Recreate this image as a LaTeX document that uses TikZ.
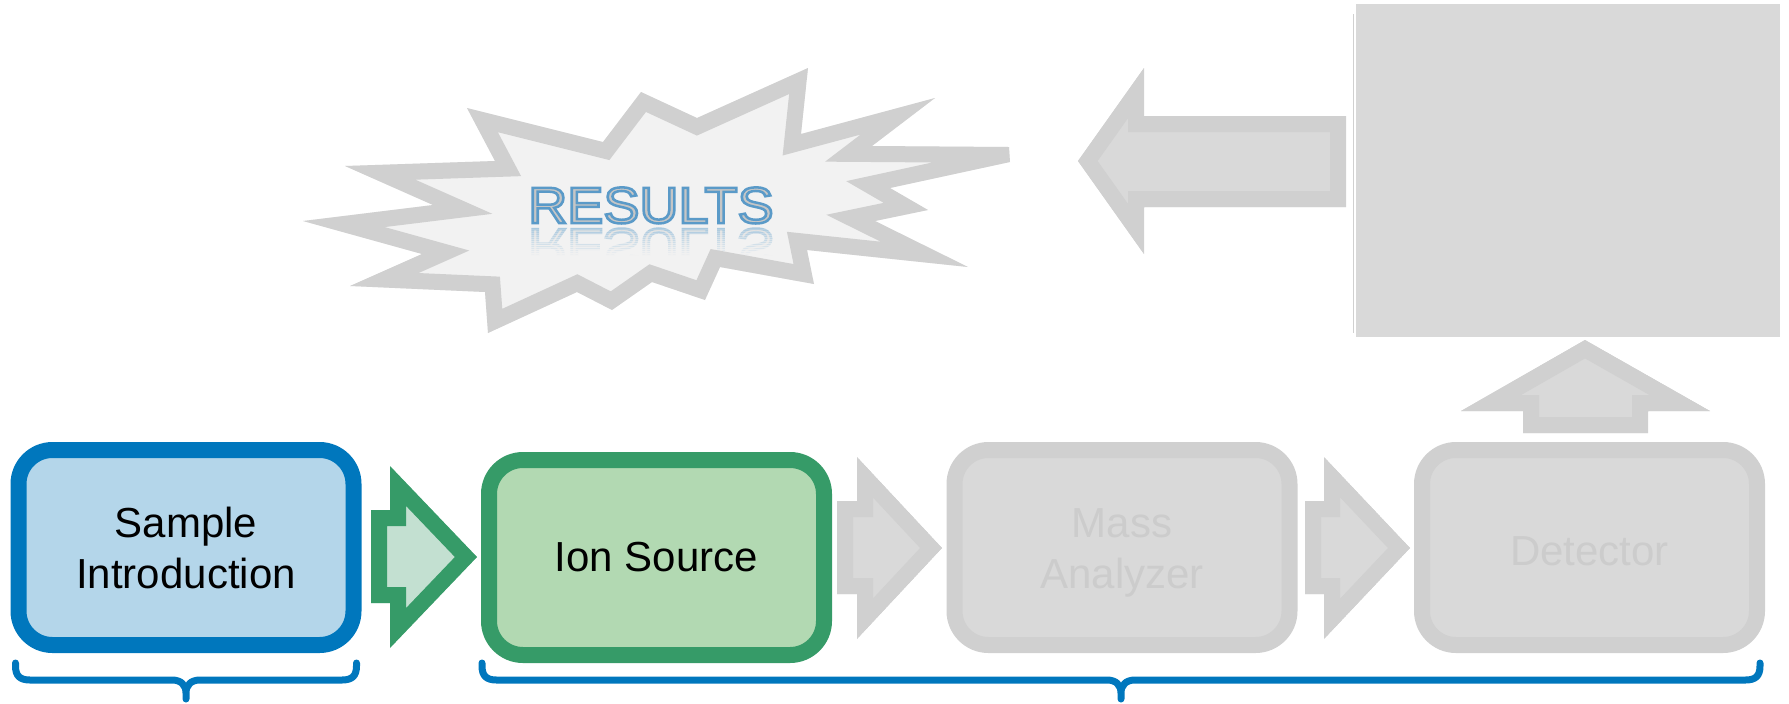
\documentclass[tikz,border=0pt]{standalone}
\usepackage{fontspec}
\setmainfont{Liberation Sans}
\definecolor{sblue}{HTML}{0077BD}
\definecolor{sbluefill}{HTML}{B4D6EA}
\definecolor{sgreen}{HTML}{369B68}
\definecolor{sgreenfill}{HTML}{B2D9B2}
\definecolor{sgreenarrow}{HTML}{C3E0D1}
\definecolor{gborder}{HTML}{D0D0D0}
\definecolor{gfill}{HTML}{D9D9D9}
\definecolor{gtext}{HTML}{CCCCCC}
\definecolor{burstfill}{HTML}{F2F2F2}
\definecolor{resgray}{HTML}{C6C6C6}
\newcommand\bandshape[3]{%
  \begin{scope}
    \clip #3;
    \fill[#2] #3;
    \draw[line width=16pt,#1] #3;
  \end{scope}}
\newcommand\outlined[2]{\special{pdf:code 2 Tr 1.25 w #1 RG}#2\special{pdf:code 0 Tr}}
\tikzset{
  stagebox/.style={rounded corners=17pt, line width=8pt, minimum width=167.5pt,
    minimum height=97.5pt, inner sep=0pt, align=center,
    font=\fontsize{21}{25.5}\selectfont},
  bluebox/.style={stagebox, draw=sblue, fill=sbluefill},
  greenbox/.style={stagebox, draw=sgreen, fill=sgreenfill},
  graybox/.style={stagebox, draw=gborder, fill=gfill},
  graytext/.style={align=center, text=gtext, inner sep=0pt, font=\fontsize{21}{25.5}\selectfont},
  brace/.style={sblue, line width=3.5pt, line cap=round, line join=round},
  resfont/.style={font=\fontsize{25.5}{30}\selectfont, inner sep=0pt, anchor=base},
}
\begin{document}
\begin{tikzpicture}[x=0.5pt,y=-0.5pt, miter limit=25]
\useasboundingbox (0,0) rectangle (1789,703);

% stage boxes
\node[bluebox] (sample) at (186,547.5) {Sample\\Introduction};
\node[greenbox] (ion) at (656.5,557.5) {Ion Source};
\node[graybox] (mass) at (1122,547.5) {};
\node[graytext] (masstext) at ([yshift=-2.5pt]mass.center) {Mass\\Analyzer};
\node[graybox] (det) at (1589.5,547.5) {};
\node[graytext] (dettext) at ([yshift=-2pt]det.center) {Detector};

% block arrows
\bandshape{sgreen}{sgreenarrow}{(371,510) -- (390,510) -- (390,466) -- (477,557) -- (390,648) -- (390,603) -- (371,603) -- cycle}
\bandshape{gborder}{gfill}{(837,501) -- (857,501) -- (857,457) -- (942,548) -- (857,639) -- (857,594) -- (837,594) -- cycle}
\bandshape{gborder}{gfill}{(1305,501) -- (1324,501) -- (1324,457) -- (1410,548) -- (1324,639) -- (1324,594) -- (1305,594) -- cycle}
\bandshape{gborder}{gfill}{(1523,433) -- (1523,411) -- (1461,411) -- (1585,340) -- (1710,411) -- (1648,411) -- (1648,433) -- cycle}
\bandshape{gborder}{gfill}{(1346,116) -- (1144,116) -- (1144,68) -- (1078,161) -- (1144,254) -- (1144,207) -- (1346,207) -- cycle}

% big gray panel
\node[fill=gfill, inner sep=0pt, minimum width=212pt, minimum height=166.5pt] (screen) at (1568,170.5) {};
\draw[gborder, line width=0.6pt] (1353.5,14) -- (1353.5,333);

% starburst
\def\burst{(467,108) -- (603,142) -- (641,92) -- (697,118) -- (808,68) -- (801,134) -- (935,98) -- (872,146) -- (1009,147) -- (1010,162) -- (890,188) -- (928,210) -- (875,221) -- (968,267) -- (807,250) -- (814,284) -- (720,267) -- (705,300) -- (652,282) -- (612,310) -- (577,292) -- (488,333) -- (485,292) -- (350,286) -- (422,254) -- (303,221) -- (433,205) -- (345,166) -- (495,161) -- cycle}
\begin{scope}
  \clip \burst;
  \fill[burstfill] \burst;
  \begin{scope}
    \clip (505,227) rectangle (800,290);
    \node[resfont, xscale=1.06, yscale=-1, text=resgray!45!burstfill] (refl) at (651,229) {\outlined{0.621 0.759 0.858}{RESULTS}};
    \foreach \i in {0,...,14} {
      \pgfmathsetmacro\op{min(1,0.15+0.06*\i)}
      \fill[burstfill, opacity=\op] (505,227+2*\i) rectangle (800,229.5+2*\i);
    }
    \fill[burstfill] (505,256) rectangle (800,290);
  \end{scope}
  \node[resfont, xscale=1.06, text=resgray] (res) at (651,223) {\outlined{0.353 0.604 0.784}{RESULTS}};
  \draw[line width=16pt, gborder] \burst;
\end{scope}

% braces
\draw[brace] (15.5,663) -- (15.5,666) .. controls (15.5,676) and (20,680) .. (30,680) -- (172,680) .. controls (181,680) and (186,685) .. (186,693) -- (186,699)
  (186,693) .. controls (186,685) and (191,680) .. (200,680) -- (342,680) .. controls (352,680) and (356.5,676) .. (356.5,666) -- (356.5,663);
\draw[brace] (482,663) -- (482,666) .. controls (482,676) and (486.5,680) .. (496.5,680) -- (1107,680) .. controls (1116,680) and (1121,685) .. (1121,693) -- (1121,699)
  (1121,693) .. controls (1121,685) and (1126,680) .. (1135,680) -- (1745.5,680) .. controls (1755.5,680) and (1760,676) .. (1760,666) -- (1760,663);
\end{tikzpicture}
\end{document}
